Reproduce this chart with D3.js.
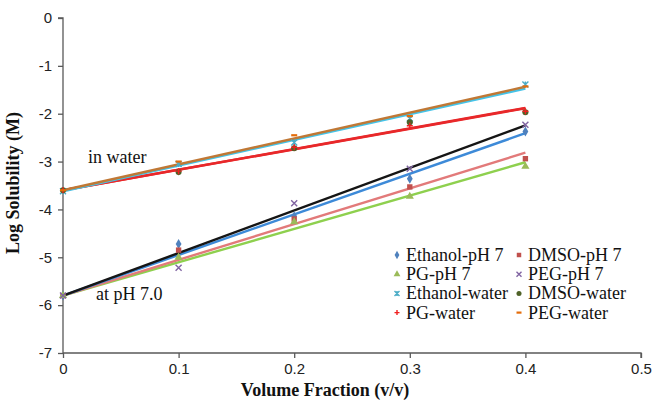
<!DOCTYPE html>
<meta charset="utf-8">
<style>
body { margin: 0; background: #fff; }
.axis path, .axis line { stroke: #595959; stroke-width: 1.3px; }
.axis text { font-family: "Liberation Sans", Arial, sans-serif; font-size: 15px; fill: #222; }
.title { font-family: "Liberation Serif", "Times New Roman", serif; font-weight: bold; font-size: 18px; fill: #111; }
.note, .legend text { font-family: "Liberation Serif", "Times New Roman", serif; font-size: 18px; fill: #111; }
</style>
<svg width="652" height="400"></svg>
<script src="https://d3js.org/d3.v7.min.js"></script>
<script>

var fractions = [0, 0.1, 0.2, 0.3, 0.4];
var xTicks = [0, 0.1, 0.2, 0.3, 0.4, 0.5];
var yTicks = [0, -1, -2, -3, -4, -5, -6, -7];

// log solubility
var ethanolPH7 = [-5.8, -4.72, -4.14, -3.36, -2.37];
var dmsoPH7    = [-5.8, -4.85, -4.2, -3.53, -2.94];
var pgPH7      = [-5.8, -5.0, -4.26, -3.73, -3.1];
var pegPH7     = [-5.8, -5.22, -3.87, -3.15, -2.23];
var ethanolWater = [-3.62, -3.05, -2.6, -2.1, -1.39];
var dmsoWater    = [-3.6, -3.22, -2.72, -2.18, -1.97];
var pgWater      = [-3.6, -3.2, -2.7, -2.25, -1.95];
var pegWater     = [-3.6, -3.0, -2.45, -2.05, -1.43];

var series = [
  {name: "Ethanol-pH 7", values: ethanolPH7, color: "#4F81BD", line: "#3d8ad8", symbol: d3.symbolDiamond},
  {name: "DMSO-pH 7", values: dmsoPH7, color: "#C0504D", line: "#e27a7a", symbol: d3.symbolSquare},
  {name: "PG-pH 7", values: pgPH7, color: "#9BBB59", line: "#8ed04e", symbol: d3.symbolTriangle},
  {name: "PEG-pH 7", values: pegPH7, color: "#8064A2", line: "#151515", symbol: "x"},
  {name: "Ethanol-water", values: ethanolWater, color: "#4BACC6", line: "#45c3e8", symbol: "star"},
  {name: "DMSO-water", values: dmsoWater, color: "#4F6228", line: "#e8282a", symbol: d3.symbolCircle},
  {name: "PG-water", values: pgWater, color: "#F02020", line: "#e8282a", symbol: "plus"},
  {name: "PEG-water", values: pegWater, color: "#E46C0A", line: "#c07835", symbol: "dash"}
];

var svg = d3.select("svg");

var x = d3.scaleLinear().domain([0, 0.5]).range([63, 641]);
var y = d3.scaleLinear().domain([-7, 0]).range([353, 18]);

// axes
svg.append("g")
    .attr("class", "axis")
    .attr("transform", "translate(0," + y(-7) + ")")
    .call(d3.axisBottom(x).tickValues(xTicks).tickSize(5).tickPadding(5)
      .tickFormat(function(d) { return d === 0 ? "0" : d3.format(".1f")(d); }))
    .call(function(g) { g.select(".domain").attr("d", "M" + x(0) + ",0H" + x(0.5) + "V5"); });

svg.append("g")
    .attr("class", "axis")
    .attr("transform", "translate(" + x(0) + ",0)")
    .call(d3.axisLeft(y).tickValues(yTicks).tickSize(5).tickPadding(6)
      .tickFormat(function(d) { return d; }))
    .call(function(g) { g.select(".domain").attr("d", "M-5," + y(0) + "H0V" + y(-7)); });

// trend lines through the x=0 value (fixed intercept)
function trend(vals) {
  var b = vals[0], num = 0, den = 0;
  fractions.forEach(function(f, i) { num += f * (vals[i] - b); den += f * f; });
  var m = num / den;
  return [[0, b], [0.4, b + m * 0.4]];
}

var lineGen = d3.line()
    .x(function(d) { return x(d[0]); })
    .y(function(d) { return y(d[1]); });

var drawOrder = [5, 6, 4, 7, 2, 1, 0, 3];
drawOrder.forEach(function(i) {
  svg.append("path")
      .attr("d", lineGen(trend(series[i].values)))
      .attr("fill", "none")
      .attr("stroke", series[i].line)
      .attr("stroke-width", 2.4);
});

// markers
function drawMarker(g, s, cx, cy, size) {
  if (s.symbol === "x" || s.symbol === "star") {
    var r = size;
    g.append("path")
        .attr("d", "M" + (cx - r) + "," + (cy - r) + "L" + (cx + r) + "," + (cy + r) +
                   "M" + (cx - r) + "," + (cy + r) + "L" + (cx + r) + "," + (cy - r) +
                   (s.symbol === "star" ? "M" + cx + "," + (cy - r) + "V" + (cy + r) : ""))
        .attr("stroke", s.color).attr("stroke-width", 1.4).attr("fill", "none");
  } else if (s.symbol === "plus") {
    g.append("path")
        .attr("d", "M" + (cx - size) + "," + cy + "H" + (cx + size) + "M" + cx + "," + (cy - size) + "V" + (cy + size))
        .attr("stroke", s.color).attr("stroke-width", 1.4);
  } else if (s.symbol === "dash") {
    g.append("path")
        .attr("d", "M" + (cx - size) + "," + cy + "H" + (cx + size))
        .attr("stroke", s.color).attr("stroke-width", 2.2);
  } else {
    g.append("path")
        .attr("d", d3.symbol().type(s.symbol).size(size * size * 3.2)())
        .attr("transform", "translate(" + cx + "," + cy + ")")
        .attr("fill", s.color);
  }
}

var marks = svg.append("g");
series.forEach(function(s) {
  s.values.forEach(function(v, i) {
    drawMarker(marks, s, x(fractions[i]), y(v), 3);
  });
});

// annotations
svg.append("text").attr("class", "note").attr("x", 88).attr("y", 163).text("in water");
svg.append("text").attr("class", "note").attr("x", 96).attr("y", 300).text("at pH 7.0");

// legend
var legend = svg.append("g").attr("class", "legend");
series.forEach(function(s, i) {
  var col = i % 2, row = Math.floor(i / 2);
  var lx = col === 0 ? 397 : 519;
  var ly = 255 + row * 19.2;
  drawMarker(legend, s, lx, ly, 2.5);
  legend.append("text")
      .attr("x", lx + 9)
      .attr("y", ly + 6)
      .text(s.name);
});

// axis titles
svg.append("text")
    .attr("class", "title")
    .attr("text-anchor", "middle")
    .attr("x", 325)
    .attr("y", 396)
    .text("Volume Fraction (v/v)");

svg.append("text")
    .attr("class", "title")
    .attr("text-anchor", "middle")
    .attr("transform", "translate(19,183) rotate(-90)")
    .text("Log Solubility (M)");

</script>
